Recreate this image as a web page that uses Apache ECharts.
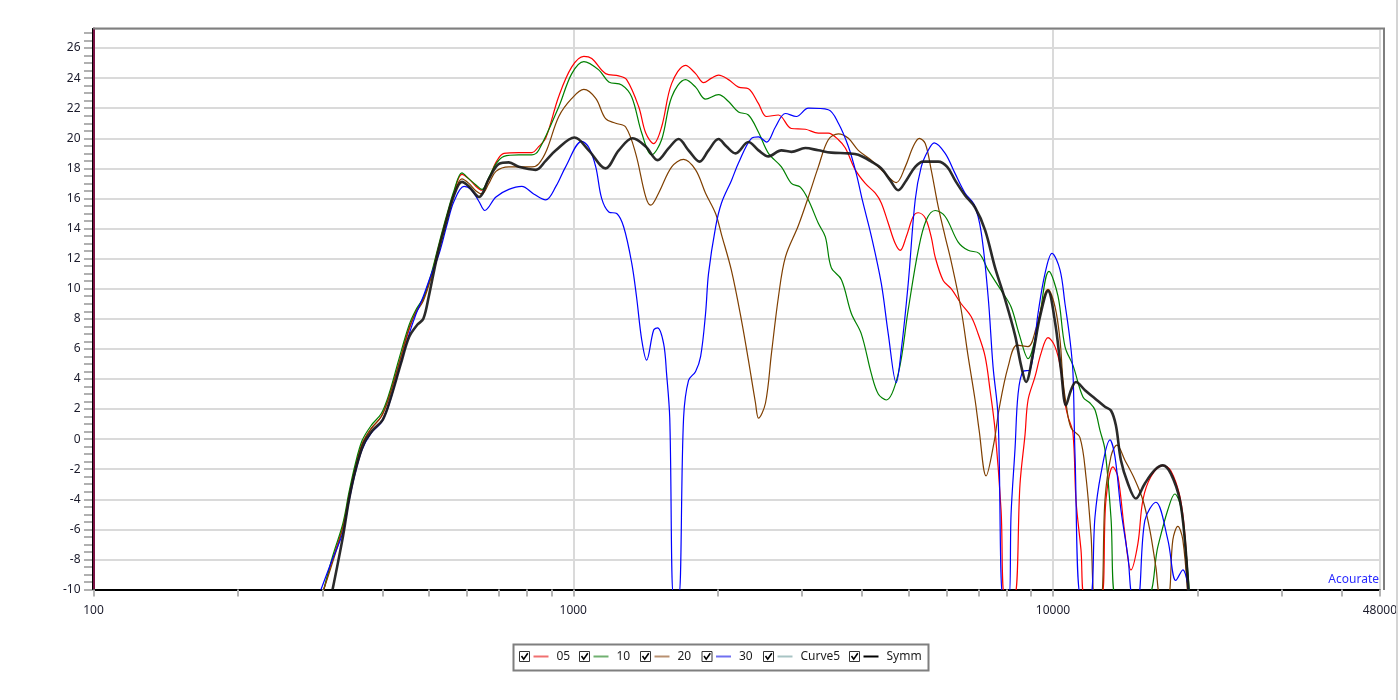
<!DOCTYPE html>
<html>
<head>
<meta charset="utf-8">
<script src="https://cdn.jsdelivr.net/npm/echarts@6/dist/echarts.min.js"></script>
<style>
html,body{margin:0;padding:0;background:#fff;}
#chart{width:1400px;height:700px;}
</style>
</head>
<body>
<div id="chart"></div>
<script>
// ---- data: [frequency Hz, level dB] ----
const seriesNames = ['05', '10', '20', '30', 'Curve5', 'Symm'];

const s05 = [[302,-10],[315,-8.0],[331,-5.8],[341,-3.7],[351,-1.9],[363,-0.3],[379,0.7],[398,1.5],[413,2.8],[433,5.0],[455,7.3],[470,8.5],[487,9.3],[505,10.8],[525,12.9],[546,14.9],[564,16.4],[586,17.6],[606,17.3],[627,16.8],[645,16.55],[667,17.3],[690,18.4],[717,19.0],[770,19.05],[820,19.05],[847,19.45],[876,20.0],[933,22.8],[993,24.75],[1052,25.45],[1093,25.3],[1168,24.3],[1244,24.15],[1292,23.9],[1369,22.1],[1416,20.35],[1471,19.65],[1528,20.75],[1604,23.65],[1714,24.85],[1799,24.3],[1869,23.7],[1942,24.0],[2008,24.2],[2107,23.9],[2210,23.4],[2318,23.3],[2433,22.3],[2528,21.45],[2677,21.55],[2849,20.65],[3046,20.6],[3242,20.35],[3401,20.35],[3570,19.9],[3691,19.35],[3872,17.9],[4062,17.0],[4262,16.35],[4386,15.7],[4535,14.35],[4690,13.0],[4804,12.55],[4944,13.45],[5112,14.8],[5237,15.05],[5416,14.7],[5573,13.45],[5681,12.1],[5903,10.55],[6133,10.0],[6435,9.0],[6750,8.15],[6980,7.0],[7218,5.5],[7393,3.25],[7572,0.6],[7793,-4.7],[7944,-10.5],[8296,-10.5],[8537,-2.95],[8744,0.3],[8871,2.6],[9173,4.15],[9441,5.7],[9762,6.75],[10096,6.15],[10391,4.6],[10592,2.4],[10745,1.5],[11006,0.4],[11165,-4.05],[11436,-7.35],[11658,-10.5],[12587,-10.5],[12893,-4.05],[13332,-1.85],[13656,-2.5],[14121,-6.3],[14533,-8.7],[15029,-6.95],[15394,-4.05],[15995,-2.5],[16942,-1.75],[17604,-2.1],[18379,-3.8],[18825,-6.3],[19191,-10.5]];

const s10 = [[302,-10],[315,-7.8],[331,-5.6],[341,-3.5],[351,-1.7],[363,-0.1],[379,0.9],[398,1.7],[413,3.0],[433,5.3],[455,7.6],[470,8.6],[487,9.4],[505,10.9],[525,13.0],[546,15.0],[564,16.5],[586,17.7],[606,17.3],[627,16.9],[645,16.6],[667,17.4],[690,18.3],[717,18.8],[770,18.9],[820,18.9],[847,19.2],[933,22.1],[993,24.3],[1052,25.1],[1130,24.55],[1186,23.75],[1262,23.55],[1324,22.75],[1389,20.35],[1457,18.9],[1528,19.9],[1604,22.75],[1714,23.9],[1799,23.4],[1887,22.6],[2008,22.9],[2107,22.45],[2210,21.75],[2318,21.55],[2433,20.4],[2552,19.0],[2716,18.1],[2849,17.0],[2974,16.75],[3091,15.9],[3242,14.35],[3353,13.45],[3450,11.4],[3622,10.6],[3799,8.35],[3985,7.0],[4181,4.35],[4323,3.0],[4492,2.6],[4758,4.35],[4991,8.6],[5237,12.55],[5441,14.55],[5681,15.2],[5960,14.8],[6343,13.1],[6654,12.55],[7014,12.35],[7323,11.25],[7793,9.9],[8175,8.8],[8497,7.0],[8871,5.35],[9306,7.6],[9809,11.15],[10243,9.5],[10592,6.15],[11006,4.9],[11547,2.8],[11941,2.4],[12229,1.95],[12526,0.6],[12831,-0.7],[13206,-5.2],[13525,-10.5],[15617,-10.5],[16541,-7.15],[17353,-4.7],[17944,-3.65],[18467,-4.5],[18916,-7.35],[19283,-10.5]];

const s20 = [[302,-10],[315,-8.2],[331,-5.9],[341,-3.8],[351,-2.0],[363,-0.35],[379,0.7],[398,1.5],[413,2.8],[433,5.0],[455,7.4],[470,8.4],[487,9.2],[505,10.7],[525,12.8],[546,14.8],[564,16.3],[586,17.3],[606,17.0],[627,16.5],[645,16.3],[667,17.0],[690,17.8],[734,18.1],[820,18.1],[847,18.3],[880,19.2],[933,21.45],[993,22.65],[1052,23.25],[1114,22.65],[1168,21.3],[1226,21.0],[1286,20.75],[1349,19.0],[1416,16.1],[1450,15.55],[1506,16.35],[1604,18.1],[1698,18.6],[1799,17.9],[1887,16.35],[1980,15.0],[2037,13.6],[2137,11.2],[2242,7.9],[2318,5.25],[2398,2.4],[2433,1.4],[2516,2.4],[2589,5.7],[2677,9.45],[2768,12.1],[2946,14.2],[3091,16.1],[3242,18.1],[3401,19.9],[3570,20.3],[3745,20.0],[3928,19.2],[4181,18.55],[4470,17.65],[4712,17.05],[4920,18.1],[5112,19.45],[5262,20.0],[5416,19.65],[5573,17.9],[5764,15.45],[5960,13.45],[6135,11.8],[6435,8.6],[6654,5.5],[6880,2.6],[7014,0.6],[7252,-2.45],[7536,-0.2],[7719,2.0],[8059,4.8],[8416,6.25],[8871,6.15],[9217,7.35],[9762,9.95],[10096,8.8],[10341,6.6],[10491,3.9],[10643,2.4],[10900,0.75],[11381,0.1],[11714,-2.5],[11998,-6.3],[12230,-10.5],[12587,-10.5],[12831,-4.05],[13206,-1.15],[13591,-0.4],[14121,-1.4],[14814,-2.7],[15394,-4.05],[15918,-6.05],[16382,-8.5],[16780,-10.5],[17353,-10.5],[17773,-6.7],[18204,-5.8],[18646,-6.7],[19099,-10.5]];

const s30 = [[298,-10],[312,-8.3],[331,-6.2],[341,-4.1],[351,-2.3],[363,-0.7],[379,0.4],[398,1.1],[413,2.3],[433,4.6],[455,7.0],[470,8.3],[487,9.5],[505,10.9],[525,12.3],[546,14.3],[564,15.8],[592,16.8],[612,16.6],[636,15.8],[654,15.2],[690,16.1],[734,16.6],[781,16.8],[827,16.3],[876,15.9],[920,16.8],[964,18.1],[1042,19.8],[1077,19.4],[1114,18.1],[1146,16.0],[1186,15.1],[1232,15.0],[1274,14.1],[1324,11.7],[1355,9.45],[1389,6.6],[1422,5.25],[1471,7.25],[1499,7.4],[1543,6.35],[1565,4.35],[1589,1.4],[1619,-10.5],[1658,-10.5],[1698,1.4],[1739,3.9],[1799,4.5],[1843,5.5],[1887,8.35],[1914,11.0],[1980,14.1],[2037,15.7],[2137,17.2],[2210,18.35],[2352,20.0],[2433,20.1],[2528,19.75],[2639,20.75],[2768,21.65],[2918,21.45],[3091,22.0],[3401,21.9],[3570,21.0],[3745,19.45],[3890,17.65],[4004,15.9],[4181,13.5],[4386,10.35],[4535,7.0],[4712,3.75],[4827,5.9],[4991,10.35],[5161,15.9],[5313,18.1],[5494,19.2],[5654,19.7],[5960,19.0],[6252,17.65],[6559,16.35],[6848,15.6],[7081,13.8],[7323,9.5],[7500,4.8],[7682,1.5],[7868,-10.5],[8098,-10.5],[8177,-5.0],[8335,-0.6],[8456,3.0],[8661,4.5],[8956,4.6],[9306,8.35],[9622,11.0],[9952,12.35],[10341,11.25],[10592,9.0],[10848,6.6],[11006,4.4],[11112,-1.0],[11436,-10.5],[11941,-10.5],[12230,-5.2],[12587,-2.3],[13142,-0.05],[13460,-1.15],[13853,-4.7],[14326,-7.8],[14673,-10.5],[15029,-10.5],[15542,-5.4],[16383,-4.2],[17353,-6.7],[18030,-9.4],[18646,-8.7],[19283,-10.5]];

const sCurve5 = [];

const sSymm = [[315,-10],[331,-6.5],[341,-4.0],[352,-2.0],[366,-0.3],[382,0.6],[401,1.3],[417,2.8],[437,5.0],[455,6.8],[473,7.6],[487,8.0],[500,9.5],[520,12.1],[543,14.4],[564,16.2],[586,17.1],[606,16.8],[636,16.1],[667,17.3],[700,18.3],[734,18.4],[770,18.1],[835,17.9],[876,18.5],[920,19.2],[1006,20.05],[1077,19.2],[1168,18.0],[1244,19.2],[1330,20.0],[1416,19.45],[1499,18.55],[1581,19.35],[1658,19.95],[1739,19.2],[1834,18.45],[1914,19.2],[2008,19.95],[2087,19.45],[2179,19.0],[2318,19.75],[2433,19.2],[2552,18.8],[2716,19.2],[2849,19.1],[3046,19.35],[3242,19.2],[3450,19.05],[3745,19.0],[3928,18.9],[4181,18.45],[4386,18.0],[4579,17.2],[4758,16.55],[4944,17.2],[5161,18.1],[5364,18.45],[5764,18.45],[6018,18.1],[6252,17.2],[6559,16.2],[6880,15.4],[7218,13.9],[7572,11.4],[7944,9.3],[8335,6.9],[8578,4.9],[8786,3.8],[9086,5.7],[9396,8.15],[9762,9.85],[10096,7.8],[10391,4.6],[10643,2.25],[10900,3.25],[11165,3.8],[11658,3.25],[12230,2.7],[12831,2.15],[13206,1.9],[13525,0.9],[13853,-1.4],[14326,-2.95],[14885,-3.95],[15542,-2.95],[16304,-2.05],[16942,-1.75],[17604,-2.3],[18379,-4.05],[18825,-6.7],[19191,-10.5]];

// axis tick values
const xTickValues = [100,200,300,400,500,600,700,800,900,1000,2000,3000,4000,5000,6000,7000,8000,9000,10000,20000,30000,40000,48000];
const yTickLabels = [-10,-8,-6,-4,-2,0,2,4,6,8,10,12,14,16,18,20,22,24,26];
const X_MIN = 100, X_MAX = 48000, Y_MIN = -10, Y_MAX = 27.3;

// minor tick positions every 0.5 dB
const yMinorTicks = [];
for (let v = Y_MIN; v <= 27.0001; v += 0.5) yMinorTicks.push(Math.round(v * 10) / 10);

const lineColors = ['#ff0000', '#008000', '#7f3f00', '#0000ff', '#9cc0c0', 'rgba(25,25,25,0.92)'];
const legendColors = ['#f07070', '#70b070', '#b89070', '#7070f0', '#a8c4c4', '#000000'];
const seriesData = [s05, s10, s20, s30, sCurve5, sSymm];

const chart = echarts.init(document.getElementById('chart'), null, {renderer: 'canvas'});

const labelStyle = {color: '#1c1c2c', fontSize: 12, fontFamily: 'Noto Sans, DejaVu Sans, sans-serif'};

const series = seriesNames.map((name, i) => ({
  name: name,
  type: 'line',
  xAxisIndex: 0,
  yAxisIndex: 0,
  data: seriesData[i],
  showSymbol: false,
  symbol: 'none',
  smooth: 0.35,
  clip: true,
  lineStyle: {color: lineColors[i], width: name === 'Symm' ? 2.6 : 1.2},
  z: name === 'Symm' ? 5 : 3,
  animation: false
}));

// legend drawn as graphic (checkbox + line + text)
const legendGraphic = [];
const boxX = 513.5, boxY = 644.5;
legendGraphic.push({type: 'rect', shape: {x: boxX, y: boxY, width: 415, height: 26}, style: {fill: '#fff', stroke: '#7f7f7f', lineWidth: 2}, z: 10});
const itemX = [519.5, 579.5, 640.5, 702, 763.5, 849.5];
seriesNames.forEach((name, i) => {
  const cx = itemX[i];
  legendGraphic.push({type: 'rect', shape: {x: cx, y: 651.5, width: 10, height: 10}, style: {fill: '#fff', stroke: '#333', lineWidth: 1}, z: 11});
  legendGraphic.push({type: 'polyline', shape: {points: [[cx + 2, 656], [cx + 4.2, 659.2], [cx + 8.3, 653.2]]}, style: {stroke: '#000', lineWidth: 1.6, fill: null}, z: 12});
  legendGraphic.push({type: 'line', shape: {x1: cx + 14, y1: 656.5, x2: cx + 29, y2: 656.5}, style: {stroke: legendColors[i], lineWidth: 2}, z: 11});
  legendGraphic.push({type: 'text', x: cx + 37, y: 657, style: {text: name, fill: '#1c1c1c', font: '12px "Noto Sans", sans-serif', verticalAlign: 'middle', align: 'left'}, z: 11});
});

const option = {
  animation: false,
  backgroundColor: '#ffffff',
  grid: {left: 93.5, right: 17.5, top: 28.5, bottom: 110.5, show: false},
  xAxis: [
    {
      type: 'log', logBase: 10, min: X_MIN, max: X_MAX,
      axisLine: {show: true, onZero: false, lineStyle: {color: '#000', width: 2}},
      axisTick: {show: false},
      axisLabel: Object.assign({margin: 15, showMinLabel: true, showMaxLabel: true, formatter: v => String(Math.round(v))}, labelStyle),
      splitLine: {show: true, lineStyle: {color: '#dadada', width: 2}},
      minorTick: {show: false}, minorSplitLine: {show: false}
    },
    {
      type: 'log', logBase: 10, min: X_MIN, max: X_MAX, position: 'bottom',
      axisLine: {show: false, onZero: false},
      axisLabel: {show: false},
      splitLine: {show: false},
      axisTick: {show: true, customValues: xTickValues, length: 7, lineStyle: {color: '#b4b4b4', width: 2}}
    }
  ],
  yAxis: [
    {
      type: 'value', min: Y_MIN, max: Y_MAX, interval: 2,
      axisLine: {show: true, onZero: false, lineStyle: {color: '#7a1244', width: 2}},
      axisTick: {show: false},
      axisLabel: Object.assign({margin: 13, customValues: yTickLabels}, labelStyle),
      splitLine: {show: true, lineStyle: {color: '#dadada', width: 2}}
    },
    {
      type: 'value', min: Y_MIN, max: Y_MAX, position: 'left', offset: 1.5,
      axisLine: {show: true, onZero: false, lineStyle: {color: '#000', width: 1}},
      axisLabel: {show: false},
      splitLine: {show: false},
      axisTick: {show: true, customValues: yMinorTicks, length: 8, lineStyle: {color: '#b0b0b0', width: 2}}
    }
  ],
  series: series,
  graphic: [
    {type: 'line', shape: {x1: 93, y1: 28.5, x2: 1385, y2: 28.5}, style: {stroke: '#7f7f7f', lineWidth: 2}, z: 10},
    {type: 'line', shape: {x1: 1384, y1: 28, x2: 1384, y2: 590}, style: {stroke: '#7f7f7f', lineWidth: 2}, z: 10},
    {type: 'line', shape: {x1: 1397, y1: 0, x2: 1397, y2: 700}, style: {stroke: '#d4d4d4', lineWidth: 2}, z: 10},
    {type: 'text', x: 1379, y: 580, style: {text: 'Acourate', fill: '#2a2aff', font: '12px "Noto Sans", sans-serif', align: 'right', verticalAlign: 'middle'}, z: 10}
  ].concat(legendGraphic)
};

chart.setOption(option);
</script>
</body>
</html>
